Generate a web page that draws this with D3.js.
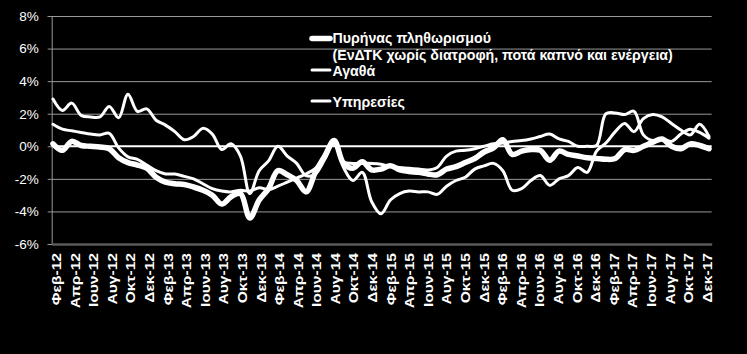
<!DOCTYPE html>
<html>
<head>
<meta charset="utf-8">
<script src="https://cdn.jsdelivr.net/npm/d3@7"></script>
<style>
  body { margin: 0; background: #000; }
  svg { display: block; }
  text { font-family: "Liberation Sans", Arial, sans-serif; fill: #fff; }
</style>
</head>
<body>
<div id="chart"></div>
<script>
// months Feb-12 .. Dec-17
const months = [
  "Φεβ-12","Μαρ-12","Απρ-12","Μαϊ-12","Ιουν-12","Ιουλ-12","Αυγ-12","Σεπ-12","Οκτ-12","Νοε-12","Δεκ-12",
  "Ιαν-13","Φεβ-13","Μαρ-13","Απρ-13","Μαϊ-13","Ιουν-13","Ιουλ-13","Αυγ-13","Σεπ-13","Οκτ-13","Νοε-13","Δεκ-13",
  "Ιαν-14","Φεβ-14","Μαρ-14","Απρ-14","Μαϊ-14","Ιουν-14","Ιουλ-14","Αυγ-14","Σεπ-14","Οκτ-14","Νοε-14","Δεκ-14",
  "Ιαν-15","Φεβ-15","Μαρ-15","Απρ-15","Μαϊ-15","Ιουν-15","Ιουλ-15","Αυγ-15","Σεπ-15","Οκτ-15","Νοε-15","Δεκ-15",
  "Ιαν-16","Φεβ-16","Μαρ-16","Απρ-16","Μαϊ-16","Ιουν-16","Ιουλ-16","Αυγ-16","Σεπ-16","Οκτ-16","Νοε-16","Δεκ-16",
  "Ιαν-17","Φεβ-17","Μαρ-17","Απρ-17","Μαϊ-17","Ιουν-17","Ιουλ-17","Αυγ-17","Σεπ-17","Οκτ-17","Νοε-17","Δεκ-17"
];

const core = [
  0.15,-0.25,0.3,0.05,0.0,-0.05,-0.15,-0.7,-1.0,-1.15,-1.35,
  -1.9,-2.2,-2.3,-2.35,-2.5,-2.7,-3.0,-3.55,-3.1,-2.9,-4.4,-3.3,
  -2.6,-1.5,-1.75,-2.1,-2.8,-1.6,-0.6,0.35,-1.05,-1.35,-0.95,-1.45,
  -1.4,-1.2,-1.45,-1.55,-1.6,-1.7,-1.75,-1.4,-1.25,-1.0,-0.75,-0.35,
  -0.1,0.4,-0.5,-0.3,-0.2,-0.25,-0.85,-0.3,-0.5,-0.6,-0.7,-0.75,
  -0.8,-0.75,-0.2,-0.25,0.0,0.25,0.45,0.0,-0.15,0.15,0.05,-0.15
];

const goods = [
  2.9,2.2,2.65,1.9,1.8,1.8,2.45,1.75,3.2,2.15,2.3,
  1.6,1.3,0.9,0.4,0.6,1.1,0.75,-0.2,0.15,-0.6,-2.9,-1.5,
  -0.9,0.0,-0.6,-1.05,-1.8,-1.7,-0.8,0.2,-1.3,-2.1,-1.6,-3.4,
  -4.15,-3.3,-2.9,-2.75,-2.8,-2.8,-2.95,-2.45,-2.1,-1.9,-1.4,-1.2,
  -1.05,-1.5,-2.7,-2.6,-2.1,-1.8,-2.4,-2.0,-1.8,-1.3,-1.6,-0.3,
  0.2,0.9,1.4,0.9,1.7,1.95,1.8,1.4,1.0,0.7,1.35,0.6
];

const services = [
  1.35,1.05,0.95,0.85,0.75,0.7,0.8,-0.1,-0.65,-0.8,-1.15,
  -1.5,-1.7,-1.7,-1.85,-2.0,-2.3,-2.6,-2.75,-2.8,-2.7,-2.75,-2.55,
  -2.65,-2.45,-2.2,-1.95,-1.7,-1.35,-0.6,0.15,-0.95,-1.05,-1.05,-1.05,
  -1.1,-1.25,-1.3,-1.35,-1.4,-1.45,-1.3,-0.6,-0.3,-0.25,-0.15,0.0,
  0.15,0.2,0.3,0.35,0.45,0.6,0.75,0.45,0.3,0.0,0.0,0.05,
  2.0,2.05,1.95,2.15,0.7,0.35,0.45,0.3,0.75,1.05,0.85,0.5
];

const yTicks = [-6, -4, -2, 0, 2, 4, 6, 8];

const seriesNames = ["Πυρήνας πληθωρισμού", "Αγαθά", "Υπηρεσίες"];
const seriesNote = "(ΕνΔΤΚ χωρίς διατροφή, ποτά καπνό και ενέργεια)";

const width = 747, height = 354;
const margin = {top: 16, right: 35.3, bottom: 110, left: 51.7};

const svg = d3.select("#chart").append("svg")
  .attr("width", width)
  .attr("height", height)
  .style("background", "#000");

const x = d3.scalePoint()
  .domain(months)
  .range([margin.left + 1.3, width - margin.right - 2.7]);

const xBand = d3.scaleBand()
  .domain(months)
  .range([margin.left, width - margin.right]);

const y = d3.scaleLinear()
  .domain([-6, 8])
  .range([height - margin.bottom, margin.top]);

// gridlines
svg.append("g")
  .selectAll("line")
  .data(yTicks.filter(d => d !== -6 && d !== 0))
  .enter().append("line")
  .attr("x1", margin.left)
  .attr("x2", width - margin.right)
  .attr("y1", d => y(d) + 0.5)
  .attr("y2", d => y(d) + 0.5)
  .attr("stroke", "#999")
  .attr("stroke-width", 1);

// y axis
const yAxis = svg.append("g")
  .attr("transform", "translate(" + margin.left + ",0)")
  .call(d3.axisLeft(y).tickValues(yTicks).tickSize(4).tickFormat(d => d + "%"));
yAxis.select(".domain").attr("stroke", "#999");
yAxis.selectAll(".tick line").attr("stroke", "#999");
yAxis.selectAll("text")
  .attr("x", -13)
  .style("font-size", "13.5px")
  .style("fill", "#fff");

// x axis at -6%
const xAxis = svg.append("g")
  .attr("transform", "translate(0," + y(-6) + ")")
  .call(d3.axisBottom(xBand).tickValues(months.filter((d, i) => i % 2 === 0)).tickSize(0));
xAxis.select(".domain").attr("stroke", "#5a5a5a").attr("stroke-width", 2.5);
xAxis.selectAll("text")
  .attr("transform", "rotate(-90) scale(1.2,1)")
  .attr("x", -9 / 1.2)
  .attr("y", 0)
  .attr("dy", "0.36em")
  .style("text-anchor", "end")
  .style("font-size", "13px")
  .style("font-weight", "bold")
  .style("fill", "#fff");

// zero line
svg.append("line")
  .attr("x1", margin.left)
  .attr("x2", width - margin.right)
  .attr("y1", y(0))
  .attr("y2", y(0))
  .attr("stroke", "#fff")
  .attr("stroke-width", 2);

// lines
const line = d3.line()
  .x((d, i) => x(months[i]))
  .y(d => y(d))
  .curve(d3.curveCatmullRom.alpha(0.5));

const series = [
  {values: services, w: 3},
  {values: goods, w: 3},
  {values: core, w: 5.5}
];

svg.append("g")
  .selectAll("path")
  .data(series)
  .enter().append("path")
  .attr("d", d => line(d.values))
  .attr("fill", "none")
  .attr("stroke", "#fff")
  .attr("stroke-width", d => d.w)
  .attr("stroke-linejoin", "round")
  .attr("stroke-linecap", "round");

// legend
const legend = svg.append("g").attr("transform", "translate(310,0)");
const legendRows = [
  {name: seriesNames[0], ly: 38.5, ty: 43, w: 5.5},
  {name: seriesNames[1], ly: 70, ty: 75.5, w: 3},
  {name: seriesNames[2], ly: 101, ty: 106.5, w: 3}
];

legend.selectAll("line")
  .data(legendRows)
  .enter().append("line")
  .attr("x1", 2)
  .attr("x2", 20)
  .attr("y1", d => d.ly)
  .attr("y2", d => d.ly)
  .attr("stroke", "#fff")
  .attr("stroke-width", d => d.w)
  .attr("stroke-linecap", "round");

legend.selectAll("text.name")
  .data(legendRows)
  .enter().append("text")
  .attr("class", "name")
  .attr("x", 22.5)
  .attr("y", d => d.ty)
  .style("font-size", "14.2px")
  .style("font-weight", "bold")
  .text(d => d.name);

legend.append("text")
  .attr("x", 22.5)
  .attr("y", 59.5)
  .style("font-size", "14.2px")
  .style("font-weight", "bold")
  .text(seriesNote);
</script>
</body>
</html>
